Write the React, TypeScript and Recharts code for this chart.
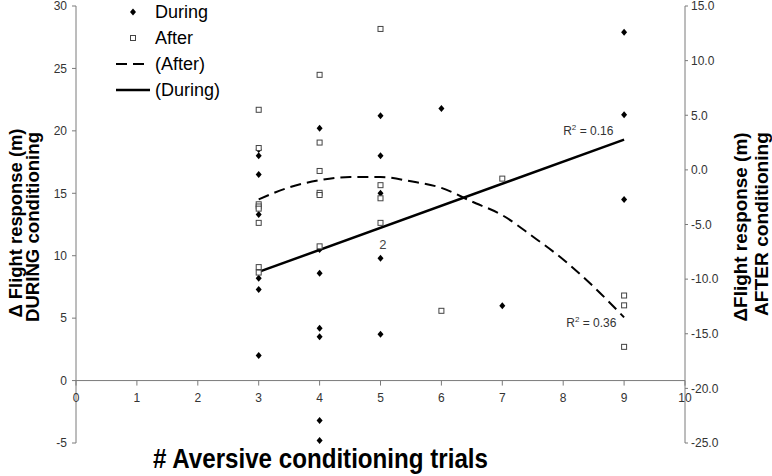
import React from "react";
import {
  ComposedChart,
  Scatter,
  Line,
  XAxis,
  YAxis,
  ReferenceLine,
  ReferenceDot,
  Legend,
} from "recharts";

// x ticks (# trials)
const trialTicks = [0, 1, 2, 3, 4, 5, 6, 7, 8, 9, 10];
const leftTicks = [-5, 0, 5, 10, 15, 20, 25, 30];
const rightTicks = [-25, -20, -15, -10, -5, 0, 5, 10, 15];

// Δ flight response DURING conditioning (left axis)
const duringPoints = [
  { x: 3, y: 18.5 }, { x: 3, y: 18.0 }, { x: 3, y: 16.5 }, { x: 3, y: 13.3 },
  { x: 3, y: 8.2 }, { x: 3, y: 7.3 }, { x: 3, y: 2.0 },
  { x: 4, y: 20.2 }, { x: 4, y: 10.5 }, { x: 4, y: 8.6 }, { x: 4, y: 4.2 },
  { x: 4, y: 3.5 }, { x: 4, y: -3.2 }, { x: 4, y: -4.8 },
  { x: 5, y: 21.2 }, { x: 5, y: 18.0 }, { x: 5, y: 15.0 }, { x: 5, y: 9.8 },
  { x: 5, y: 3.7 },
  { x: 6, y: 21.8 },
  { x: 7, y: 6.0 },
  { x: 9, y: 27.9 }, { x: 9, y: 21.3 }, { x: 9, y: 14.5 },
];

// Δ flight response AFTER conditioning (right axis)
const afterPoints = [
  { x: 3, y: 5.5 }, { x: 3, y: 2.0 }, { x: 3, y: -3.15 }, { x: 3, y: -3.35 },
  { x: 3, y: -3.55 }, { x: 3, y: -4.85 }, { x: 3, y: -8.9 }, { x: 3, y: -9.4 },
  { x: 4, y: 8.7 }, { x: 4, y: 2.5 }, { x: 4, y: -0.1 }, { x: 4, y: -2.1 },
  { x: 4, y: -2.3 }, { x: 4, y: -7.0 },
  { x: 5, y: 12.9 }, { x: 5, y: -1.4 }, { x: 5, y: -2.6 }, { x: 5, y: -4.85 },
  { x: 6, y: -12.9 },
  { x: 7, y: -0.8 },
  { x: 9, y: -11.5 }, { x: 9, y: -12.4 }, { x: 9, y: -16.2 },
];

// fitted lines
const duringFit = [
  { x: 3, y: 8.7 },
  { x: 9, y: 19.3 },
];
const afterFit = [
  { x: 3, y: -2.7 }, { x: 3.5, y: -1.6 }, { x: 4, y: -0.95 }, { x: 4.5, y: -0.65 },
  { x: 5, y: -0.65 }, { x: 5.5, y: -1.05 }, { x: 6, y: -1.65 }, { x: 6.5, y: -2.9 },
  { x: 7, y: -4.15 }, { x: 7.5, y: -6.1 }, { x: 8, y: -8.2 }, { x: 8.5, y: -10.7 },
  { x: 9, y: -13.5 },
];

const legendItems = ["During", "After", "(After)", "(During)"];

const W = 772;
const H = 476;
const PLOT_TOP = 6;
const X_AXIS_H = 33;
const PLOT_H = H - PLOT_TOP - X_AXIS_H;
const LEFT_DOMAIN: [number, number] = [-5, 30];
const RIGHT_DOMAIN: [number, number] = [-25, 15];
// pixel row of the zero line on the left axis
const Y_ZERO =
  PLOT_TOP + (PLOT_H * LEFT_DOMAIN[1]) / (LEFT_DOMAIN[1] - LEFT_DOMAIN[0]);

const FONT = "'Liberation Sans', Arial, sans-serif";
const AXIS = "#7a7a7a";
const TICK_TEXT = { fontSize: 12, fill: "#333", fontFamily: FONT };

const Diamond = ({ cx, cy }: any) => (
  <polygon
    points={`${cx},${cy - 3.5} ${cx + 3},${cy} ${cx},${cy + 3.5} ${cx - 3},${cy}`}
    fill="#000"
  />
);

const OpenSquare = ({ cx, cy }: any) => (
  <rect x={cx - 2.5} y={cy - 2.5} width={5} height={5} fill="#fff" stroke="#444" strokeWidth={1} />
);

const XTick = ({ x, payload }: any) => (
  <g>
    <line x1={x} x2={x} y1={Y_ZERO} y2={Y_ZERO + 5} stroke={AXIS} />
    <text x={x} y={Y_ZERO + 21} textAnchor="middle" {...TICK_TEXT}>
      {payload.value}
    </text>
  </g>
);

const RSquared = (value: string) => ({ viewBox }: any) => (
  <text x={viewBox.x} y={viewBox.y + 4} fontSize={12} fill="#333" fontFamily={FONT}>
    R
    <tspan fontSize={8} dy={-5}>2</tspan>
    <tspan dy={5}>{` = ${value}`}</tspan>
  </text>
);

const LegendBox = () => (
  <svg width={140} height={104} style={{ display: "block" }}>
    {legendItems.map((name, i) => {
      const cy = 12 + i * 26;
      let symbol;
      if (i === 0) symbol = <Diamond cx={23} cy={cy} />;
      else if (i === 1) symbol = <OpenSquare cx={23} cy={cy} />;
      else if (i === 2)
        symbol = <line x1={6} x2={38} y1={cy} y2={cy} stroke="#000" strokeWidth={2} strokeDasharray="11 6" />;
      else symbol = <line x1={6} x2={40} y1={cy} y2={cy} stroke="#000" strokeWidth={2.5} />;
      return (
        <g key={name}>
          {symbol}
          <text x={45} y={cy} dy="0.36em" fontSize={18} fill="#000" fontFamily={FONT}>
            {name}
          </text>
        </g>
      );
    })}
  </svg>
);

export default function App() {
  return (
    <div style={{ position: "absolute", left: 0, top: 0, width: W, height: H, background: "#fff" }}>
      <ComposedChart width={W} height={H} margin={{ top: PLOT_TOP, right: 0, bottom: 0, left: 0 }}>
        <XAxis
          type="number"
          dataKey="x"
          domain={[0, 10]}
          ticks={trialTicks}
          axisLine={false}
          tickLine={false}
          height={X_AXIS_H}
          tick={<XTick />}
          interval={0}
          label={{
            content: () => (
              <text
                x={153}
                y={468}
                textLength={335}
                lengthAdjust="spacingAndGlyphs"
                fontSize={28}
                fontWeight="bold"
                fontFamily={FONT}
                fill="#000"
              >
                # Aversive conditioning trials
              </text>
            ),
          }}
        />
        <YAxis
          yAxisId="left"
          type="number"
          domain={LEFT_DOMAIN}
          ticks={leftTicks}
          width={76}
          stroke={AXIS}
          tickSize={4}
          tickMargin={5}
          tick={TICK_TEXT}
          interval={0}
          label={{
            content: () => (
              <g fontFamily={FONT} fontWeight="bold" fontSize={18} fill="#000">
                <text
                  transform="translate(22,223) rotate(-90)"
                  textAnchor="middle"
                  textLength={189}
                  lengthAdjust="spacingAndGlyphs"
                >
                  Δ Flight response (m)
                </text>
                <text
                  transform="translate(39,227) rotate(-90)"
                  textAnchor="middle"
                  textLength={190}
                  lengthAdjust="spacingAndGlyphs"
                >
                  DURING  conditioning
                </text>
              </g>
            ),
          }}
        />
        <YAxis
          yAxisId="right"
          orientation="right"
          type="number"
          domain={RIGHT_DOMAIN}
          ticks={rightTicks}
          width={87}
          stroke={AXIS}
          tickSize={3}
          tickMargin={3}
          tick={TICK_TEXT}
          tickFormatter={(v: number) => v.toFixed(1)}
          interval={0}
          label={{
            content: () => (
              <g fontFamily={FONT} fontWeight="bold" fontSize={18} fill="#000">
                <text
                  transform="translate(747,227) rotate(-90)"
                  textAnchor="middle"
                  textLength={189}
                  lengthAdjust="spacingAndGlyphs"
                >
                  ΔFlight response (m)
                </text>
                <text
                  transform="translate(768,224) rotate(-90)"
                  textAnchor="middle"
                  textLength={184}
                  lengthAdjust="spacingAndGlyphs"
                >
                  AFTER conditioning
                </text>
              </g>
            ),
          }}
        />
        <ReferenceLine yAxisId="left" y={0} stroke={AXIS} />

        <Line
          yAxisId="left"
          data={duringFit}
          dataKey="y"
          type="linear"
          stroke="#000"
          strokeWidth={2.5}
          dot={false}
          activeDot={false}
          isAnimationActive={false}
        />
        <Line
          yAxisId="right"
          data={afterFit}
          dataKey="y"
          type="monotone"
          stroke="#000"
          strokeWidth={2}
          strokeDasharray="11 6"
          dot={false}
          activeDot={false}
          isAnimationActive={false}
        />
        <Scatter yAxisId="left" data={duringPoints} dataKey="y" shape={<Diamond />} isAnimationActive={false} />
        <Scatter yAxisId="right" data={afterPoints} dataKey="y" shape={<OpenSquare />} isAnimationActive={false} />

        <ReferenceDot yAxisId="left" x={8.0} y={20.0} r={0} fill="none" stroke="none" label={{ content: RSquared("0.16") }} />
        <ReferenceDot yAxisId="left" x={8.05} y={4.6} r={0} fill="none" stroke="none" label={{ content: RSquared("0.36") }} />
        <ReferenceDot
          yAxisId="left"
          x={5.04}
          y={10.9}
          r={0}
          fill="none"
          stroke="none"
          label={{
            content: ({ viewBox }: any) => (
              <text x={viewBox.x} y={viewBox.y + 5} textAnchor="middle" fontSize={13} fill="#444" fontFamily={FONT}>
                2
              </text>
            ),
          }}
        />

        <Legend
          layout="vertical"
          align="center"
          verticalAlign="middle"
          wrapperStyle={{ left: 110, top: 0, width: 140, height: 104 }}
          content={() => <LegendBox />}
        />
      </ComposedChart>
    </div>
  );
}
